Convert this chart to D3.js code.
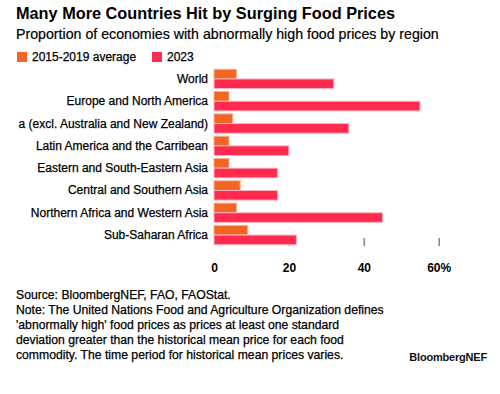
<!DOCTYPE html>
<html>
<head>
<meta charset="utf-8">
<script src="https://cdn.jsdelivr.net/npm/d3@7"></script>
<style>
  html, body { margin: 0; padding: 0; background: #fff; }
  svg { display: block; font-family: "Liberation Sans", Arial, sans-serif; }
</style>
</head>
<body>
<div id="chart"></div>
<script>
// ---- Data ----
const categories = [
  "World",
  "Europe and North America",
  "a (excl. Australia and New Zealand)",
  "Latin America and the Carribean",
  "Eastern and South-Eastern Asia",
  "Central and Southern Asia",
  "Northern Africa and Western Asia",
  "Sub-Saharan Africa"
];
const seriesNames = ["2015-2019 average", "2023"];
const avg2015_2019 = [6, 4, 5, 4, 4, 7, 6, 9];
const values2023 = [32, 55, 36, 20, 17, 17, 45, 22];
const tickValues = [0, 20, 40, 60];
const tickLabels = ["0", "20", "40", "60%"];
const seriesColors = ["#F26522", "#FF2B4F"];

const title = "Many More Countries Hit by Surging Food Prices";
const subtitle = "Proportion of economies with abnormally high food prices by region";
const footer = [
  "Source: BloombergNEF, FAO, FAOStat.",
  "Note: The United Nations Food and Agriculture Organization defines",
  "'abnormally high' food prices as prices at least one standard",
  "deviation greater than the historical mean price for each food",
  "commodity. The time period for historical mean prices varies."
];

// ---- Layout ----
const W = 500, H = 394;
const svg = d3.select("#chart").append("svg").attr("width", W).attr("height", H);

svg.append("text").attr("x", 16).attr("y", 19)
  .attr("font-size", 16.3).attr("font-weight", "bold").attr("fill", "#000")
  .text(title);
svg.append("text").attr("x", 16).attr("y", 39)
  .attr("font-size", 14.2).attr("fill", "#000")
  .attr("stroke", "#000").attr("stroke-width", 0.2)
  .text(subtitle);

// Legend
const legendX = [17, 152];
seriesNames.forEach((name, i) => {
  const g = svg.append("g").attr("transform", `translate(${legendX[i]},52)`);
  g.append("rect").attr("width", 10).attr("height", 10).attr("fill", seriesColors[i]);
  g.append("text").attr("x", 15).attr("y", 9.3).attr("font-size", 12).attr("fill", "#000")
    .attr("stroke", "#000").attr("stroke-width", 0.25).text(name);
});

// Scales
const x = d3.scaleLinear().domain([0, 60]).range([214, 438.7]);
const y = d3.scaleBand().domain(categories).range([67.8, 246.2])
  .paddingInner(0.135).paddingOuter(0.0675);
const sub = d3.scaleBand().domain([0, 1]).range([0, y.bandwidth()]);

// Ticks (drawn beneath bars)
const axis = d3.axisBottom(x).tickValues(tickValues)
  .tickFormat((d, i) => tickLabels[i]).tickSize(8).tickPadding(17);
const axG = svg.append("g").attr("transform", "translate(0,238)").call(axis);
axG.select(".domain").remove();
axG.selectAll(".tick line").attr("stroke", "#8a8a8a").attr("stroke-width", 1.6)
  .attr("display", d => d === 0 ? "none" : null);
axG.selectAll(".tick text").attr("font-size", 12).attr("font-weight", "bold")
  .attr("fill", "#000").attr("font-family", "Liberation Sans, Arial, sans-serif");

// Bars
const rows = categories.map((c, i) => ({ c, vals: [avg2015_2019[i], values2023[i]] }));
const groups = svg.append("g").selectAll("g").data(rows).join("g")
  .attr("transform", d => `translate(0,${y(d.c)})`);
groups.selectAll("rect").data(d => d.vals.map((v, k) => ({ v, k }))).join("rect")
  .attr("x", x(0))
  .attr("y", d => sub(d.k))
  .attr("width", d => x(d.v) - x(0))
  .attr("height", sub.bandwidth())
  .attr("fill", d => seriesColors[d.k])
  .attr("stroke", d => d.k === 0 ? "#f9b28f" : "#ffb3c0")
  .attr("stroke-width", 1);

// Category labels
svg.append("g").selectAll("text").data(categories).join("text")
  .attr("x", 208).attr("y", d => y(d) + y.bandwidth() / 2 + 4)
  .attr("text-anchor", "end").attr("font-size", 12).attr("fill", "#000")
  .attr("stroke", "#000").attr("stroke-width", 0.25)
  .text(d => d);

// Footer
svg.append("g").selectAll("text").data(footer).join("text")
  .attr("x", 16).attr("y", (d, i) => 299 + i * 15)
  .attr("font-size", 12.2).attr("fill", "#000")
  .attr("stroke", "#000").attr("stroke-width", 0.25)
  .text(d => d);

svg.append("text").attr("x", 487).attr("y", 361).attr("text-anchor", "end")
  .attr("font-size", 11).attr("font-weight", "bold").attr("fill", "#111")
  .attr("letter-spacing", -0.2)
  .text("BloombergNEF");
</script>
</body>
</html>
